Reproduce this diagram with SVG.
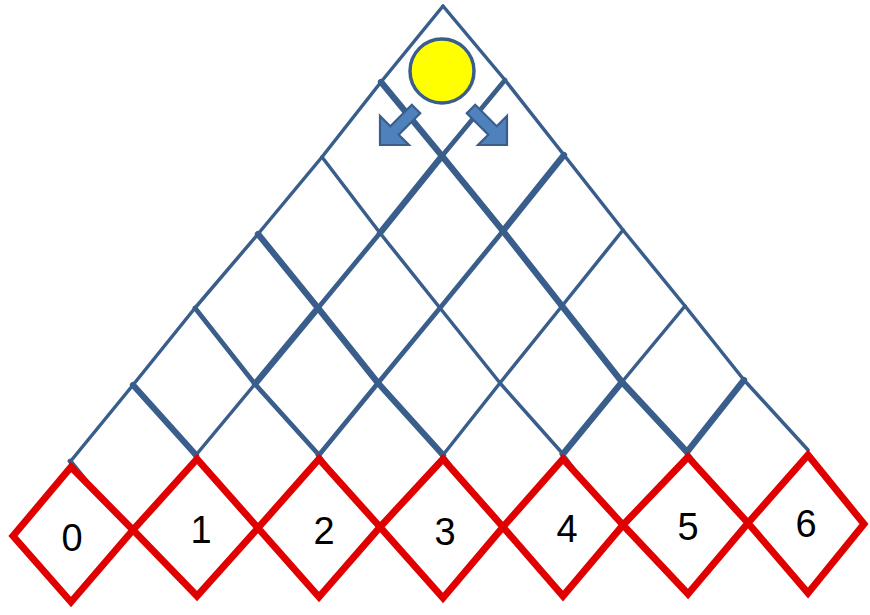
<svg xmlns="http://www.w3.org/2000/svg" width="870" height="615" viewBox="0 0 870 615">
<style>
.l{stroke:#3a5e8c;fill:none;stroke-linecap:round}
.t{stroke-width:3.5}.m{stroke-width:4.8}.k{stroke-width:6.3}
.bin{fill:#fff;stroke:#e00000;stroke-width:7;stroke-linejoin:miter}
.num{font-family:"Liberation Sans",Arial,sans-serif;font-size:38px;fill:#000;text-anchor:middle}
.arr{fill:#4f81bd;stroke:#3a5e8c;stroke-width:2.2;stroke-linejoin:miter}
</style>
<rect width="870" height="615" fill="#fff"/>
<g id="connectors">
<line class="l m" x1="70" y1="461" x2="128" y2="533"/>
<line class="l m" x1="195" y1="455" x2="252" y2="531"/>
<line class="l m" x1="318" y1="455" x2="374" y2="531"/>
<line class="l m" x1="442" y1="455" x2="497" y2="530"/>
<line class="l m" x1="562" y1="454" x2="617" y2="528"/>
<line class="l m" x1="686" y1="452" x2="742" y2="526"/>
<line class="l t" x1="443" y1="6" x2="381" y2="82"/>
<line class="l t" x1="443" y1="6" x2="505" y2="80"/>
<line class="l t" x1="381" y1="82" x2="322" y2="157"/>
<line class="l k" x1="381" y1="82" x2="442" y2="156"/>
<line class="l m" x1="505" y1="80" x2="442" y2="156"/>
<line class="l t" x1="505" y1="80" x2="564" y2="155"/>
<line class="l t" x1="322" y1="157" x2="258" y2="234"/>
<line class="l t" x1="322" y1="157" x2="380" y2="233"/>
<line class="l k" x1="442" y1="156" x2="380" y2="233"/>
<line class="l k" x1="442" y1="156" x2="503" y2="231"/>
<line class="l k" x1="564" y1="155" x2="503" y2="231"/>
<line class="l t" x1="564" y1="155" x2="623" y2="230"/>
<line class="l t" x1="258" y1="234" x2="195" y2="308"/>
<line class="l k" x1="258" y1="234" x2="318" y2="308"/>
<line class="l m" x1="380" y1="233" x2="318" y2="308"/>
<line class="l t" x1="380" y1="233" x2="440" y2="308"/>
<line class="l m" x1="503" y1="231" x2="440" y2="308"/>
<line class="l k" x1="503" y1="231" x2="562" y2="306"/>
<line class="l t" x1="623" y1="230" x2="562" y2="306"/>
<line class="l t" x1="623" y1="230" x2="685" y2="306"/>
<line class="l t" x1="195" y1="308" x2="133" y2="385"/>
<line class="l m" x1="195" y1="308" x2="255" y2="384"/>
<line class="l k" x1="318" y1="308" x2="255" y2="384"/>
<line class="l k" x1="318" y1="308" x2="378" y2="383"/>
<line class="l m" x1="440" y1="308" x2="378" y2="383"/>
<line class="l t" x1="440" y1="308" x2="500" y2="383"/>
<line class="l t" x1="562" y1="306" x2="500" y2="383"/>
<line class="l k" x1="562" y1="306" x2="622" y2="382"/>
<line class="l t" x1="685" y1="306" x2="622" y2="382"/>
<line class="l t" x1="685" y1="306" x2="744" y2="380"/>
<line class="l t" x1="133" y1="385" x2="70" y2="462"/>
<line class="l k" x1="133" y1="385" x2="196" y2="455"/>
<line class="l t" x1="255" y1="384" x2="196" y2="455"/>
<line class="l m" x1="255" y1="384" x2="319" y2="455"/>
<line class="l m" x1="378" y1="383" x2="319" y2="455"/>
<line class="l k" x1="378" y1="383" x2="443" y2="455"/>
<line class="l t" x1="500" y1="383" x2="443" y2="455"/>
<line class="l t" x1="500" y1="383" x2="563" y2="454"/>
<line class="l k" x1="622" y1="382" x2="563" y2="454"/>
<line class="l k" x1="622" y1="382" x2="687" y2="452"/>
<line class="l k" x1="744" y1="380" x2="687" y2="452"/>
<line class="l t" x1="744" y1="380" x2="808" y2="450"/>
</g>
<g id="bin0"><polygon class="bin" points="71,467 133,530 71,602 13,536"/><text class="num" x="72" y="551">0</text></g>
<g id="bin1"><polygon class="bin" points="197,459 258,528 197,596 133,530"/><text class="num" x="201" y="543">1</text></g>
<g id="bin2"><polygon class="bin" points="319,459 380,527 319,597 258,528"/><text class="num" x="324" y="544">2</text></g>
<g id="bin3"><polygon class="bin" points="443,459 503,527 443,598 380,527"/><text class="num" x="445" y="545">3</text></g>
<g id="bin4"><polygon class="bin" points="563,459 623,525 563,596 503,527"/><text class="num" x="567" y="542">4</text></g>
<g id="bin5"><polygon class="bin" points="688,457 748,523 688,594 623,525"/><text class="num" x="688" y="540">5</text></g>
<g id="bin6"><polygon class="bin" points="808,455 864,524 808,593 748,523"/><text class="num" x="806" y="537">6</text></g>
<g id="ball"><circle cx="442" cy="71" r="32" fill="#ffff00" stroke="#3a5e8c" stroke-width="3.5"/></g>
<g id="arrow-left"><polygon class="arr" points="380,145 409,145 398.7,134.7 420.2,113.2 411.8,104.8 390.3,126.3 380,116"/></g>
<g id="arrow-right"><polygon class="arr" points="507,145 478,145 488.3,134.7 466.8,113.2 475.2,104.8 496.7,126.3 507,116"/></g>
</svg>
